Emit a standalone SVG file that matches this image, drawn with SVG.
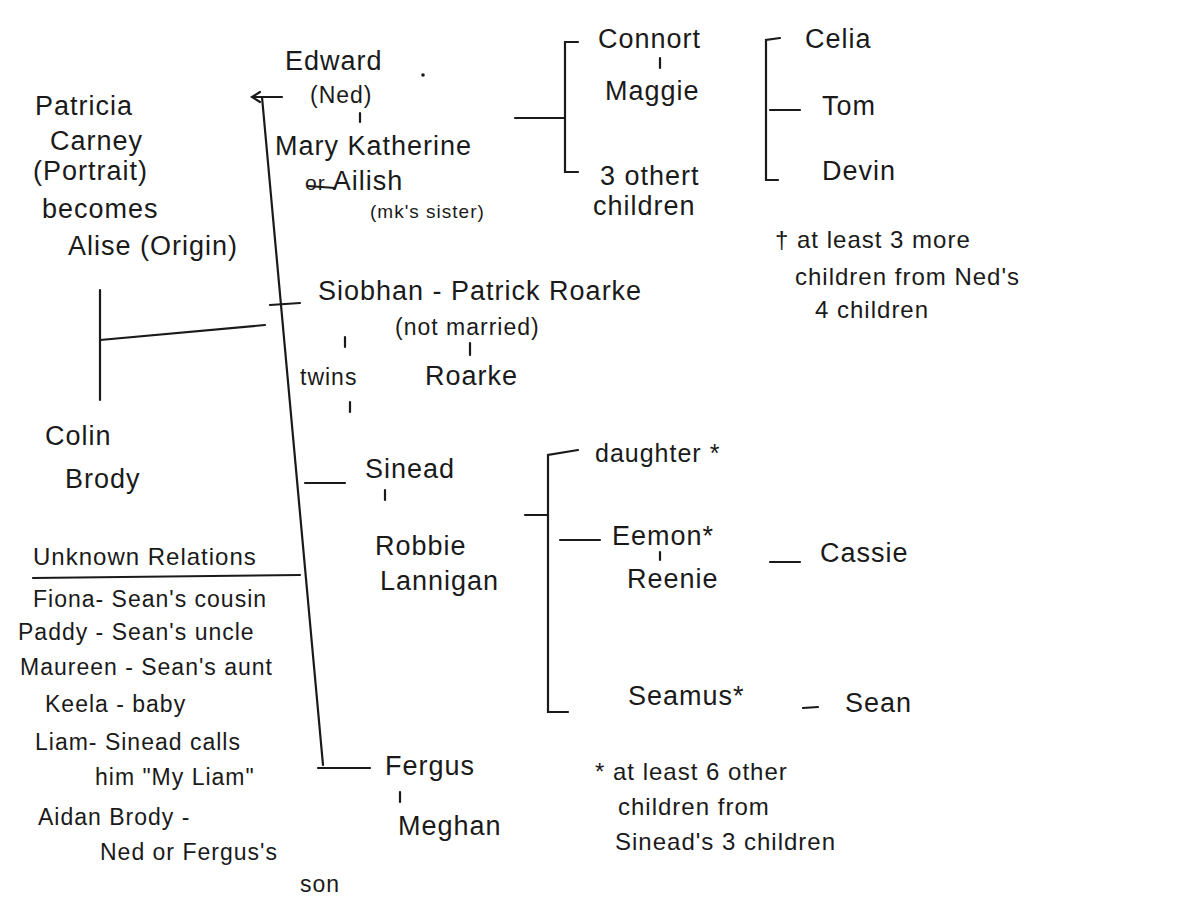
<svg xmlns="http://www.w3.org/2000/svg" width="1200" height="921" viewBox="0 0 1200 921">
<style>
text{font-family:"Liberation Sans",Arial,sans-serif;font-size:27px;fill:#1a1a1a;letter-spacing:1px}
.s{font-size:21px}
line,path{stroke:#1a1a1a;stroke-width:2.2;fill:none;stroke-linecap:round}
</style>
<rect width="1200" height="921" fill="#fff"/>
<g id="connectors">
<line x1="100" y1="290" x2="100" y2="400"/>
<line x1="100" y1="340" x2="265" y2="325"/>
<line x1="262" y1="97" x2="323" y2="765"/>
<path d="M282 97 L252 97 M260 92 L252 97 L260 102"/>
<line x1="270" y1="305" x2="300" y2="303"/>
<line x1="305" y1="483" x2="345" y2="483"/>
<line x1="318" y1="768" x2="370" y2="768"/>
<line x1="515" y1="118" x2="565" y2="118"/>
<path d="M578 42 L565 42 L565 172 L578 172"/>
<path d="M780 38 L766 40 L766 180 L778 180"/>
<line x1="770" y1="110" x2="800" y2="110"/>
<path d="M578 450 L548 455 L548 712 L568 712"/>
<line x1="525" y1="515" x2="548" y2="515"/>
<line x1="560" y1="540" x2="600" y2="540"/>
<line x1="33" y1="578" x2="300" y2="575"/>
<line x1="360" y1="113" x2="360" y2="122"/>
<line x1="660" y1="58" x2="660" y2="68"/>
<line x1="345" y1="337" x2="345" y2="347"/>
<line x1="470" y1="343" x2="470" y2="355"/>
<line x1="350" y1="402" x2="350" y2="412"/>
<line x1="385" y1="490" x2="385" y2="500"/>
<line x1="660" y1="552" x2="660" y2="560"/>
<line x1="400" y1="792" x2="400" y2="802"/>
<line x1="770" y1="562" x2="800" y2="562"/>
<line x1="803" y1="708" x2="818" y2="707"/>
<line x1="308" y1="186" x2="335" y2="188"/>
<circle cx="423" cy="75" r="1.8" fill="#1a1a1a"/>
</g>
<g id="left">
<text x="35" y="115">Patricia</text>
<text x="50" y="150">Carney</text>
<text x="33" y="180">(Portrait)</text>
<text x="42" y="218">becomes</text>
<text x="68" y="255">Alise (Origin)</text>
<text x="45" y="445">Colin</text>
<text x="65" y="488">Brody</text>
</g>
<g id="unknown">
<text x="33" y="565" style="font-size:24px">Unknown Relations</text>
<text x="33" y="607" style="font-size:23px">Fiona-  Sean's cousin</text>
<text x="18" y="640" style="font-size:23px">Paddy - Sean's uncle</text>
<text x="20" y="675" style="font-size:23px">Maureen - Sean's aunt</text>
<text x="45" y="712" style="font-size:23px">Keela  - baby</text>
<text x="35" y="750" style="font-size:23px">Liam-  Sinead calls</text>
<text x="95" y="785" style="font-size:23px">him "My Liam"</text>
<text x="38" y="825" style="font-size:23px">Aidan Brody -</text>
<text x="100" y="860" style="font-size:23px">Ned or  Fergus's</text>
<text x="300" y="892" style="font-size:23px">son</text>
</g>
<g id="ned">
<text x="285" y="70">Edward</text>
<text x="310" y="103" style="font-size:23px">(Ned)</text>
<text x="275" y="155">Mary Katherine</text>
<text x="305" y="190"><tspan class="s">or</tspan>  Ailish</text>
<text x="370" y="218" style="font-size:19px">(mk's sister)</text>
</g>
<g id="siobhan">
<text x="318" y="300">Siobhan  -  Patrick Roarke</text>
<text x="395" y="335" style="font-size:23px">(not married)</text>
<text x="300" y="385" style="font-size:23px">twins</text>
<text x="425" y="385">Roarke</text>
</g>
<g id="sinead">
<text x="365" y="478">Sinead</text>
<text x="375" y="555">Robbie</text>
<text x="380" y="590">Lannigan</text>
</g>
<g id="fergus">
<text x="385" y="775">Fergus</text>
<text x="398" y="835">Meghan</text>
</g>
<g id="nedkids">
<text x="598" y="48">Connort</text>
<text x="605" y="100">Maggie</text>
<text x="600" y="185">3 othert</text>
<text x="593" y="215">children</text>
<text x="805" y="48">Celia</text>
<text x="822" y="115">Tom</text>
<text x="822" y="180">Devin</text>
<text x="775" y="248" style="font-size:24px">† at least  3 more</text>
<text x="795" y="285" style="font-size:24px">children  from  Ned's</text>
<text x="815" y="318" style="font-size:24px">4 children</text>
</g>
<g id="sineadkids">
<text x="595" y="462" style="font-size:25px">daughter *</text>
<text x="612" y="545">Eemon*</text>
<text x="627" y="588">Reenie</text>
<text x="820" y="562">Cassie</text>
<text x="628" y="705">Seamus*</text>
<text x="845" y="712">Sean</text>
<text x="595" y="780" style="font-size:24px">* at least  6 other</text>
<text x="618" y="815" style="font-size:24px">children  from</text>
<text x="615" y="850" style="font-size:24px">Sinead's  3 children</text>
</g>
</svg>
